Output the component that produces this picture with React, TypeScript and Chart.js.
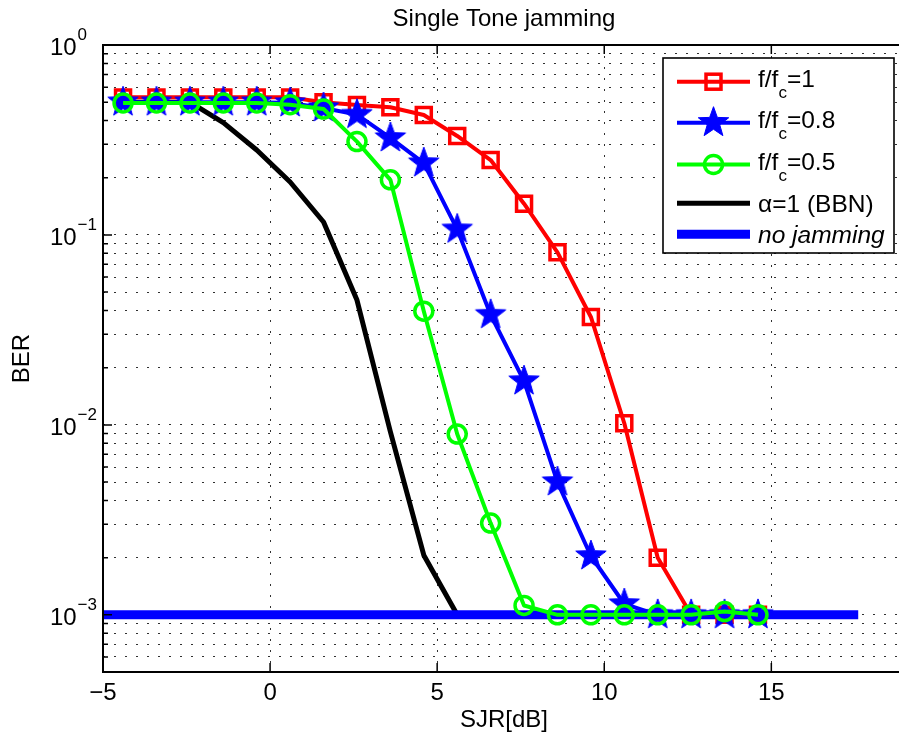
import React, { useEffect, useRef } from 'react';
import { Chart, registerables } from 'chart.js';

Chart.register(...registerables);

// ---------- data ----------
const sjr = [-4.4, -3.4, -2.4, -1.4, -0.4, 0.6, 1.6, 2.6, 3.6, 4.6, 5.6, 6.6, 7.6, 8.6, 9.6, 10.6, 11.6, 12.6, 13.6, 14.6];
const berF1 = [0.53, 0.53, 0.53, 0.53, 0.53, 0.53, 0.5, 0.483, 0.47, 0.428, 0.332, 0.248, 0.146, 0.081, 0.037, 0.0102, 0.002, 0.001, 0.001, 0.001];
const berF08 = [0.5, 0.5, 0.5, 0.5, 0.5, 0.495, 0.466, 0.43, 0.324, 0.239, 0.107, 0.038, 0.017, 0.005, 0.00204, 0.00114, 0.001, 0.001, 0.001, 0.001];
const berF05 = [0.495, 0.495, 0.495, 0.495, 0.495, 0.485, 0.46, 0.31, 0.195, 0.0397, 0.00895, 0.00304, 0.00112, 0.001, 0.001, 0.001, 0.001, 0.001, 0.00104, 0.001];
const sjrBBN = [-4.4, -3.4, -2.4, -1.4, -0.4, 0.6, 1.6, 2.6, 3.6, 4.6, 5.6];
const berBBN = [0.5, 0.5, 0.5, 0.39, 0.28, 0.19, 0.117, 0.0454, 0.0092, 0.00206, 0.001];
const sjrNoJam = [-5, 17.6];
const berNoJam = [0.001, 0.001];

const xTickValues = [-5, 0, 5, 10, 15];
const xTickLabels = ['\u22125', '0', '5', '10', '15'];
const yMajorTicks = [1e-3, 1e-2, 1e-1, 1];
const yTickExponents = ['\u22123', '\u22122', '\u22121', '0'];
const yMinorMantissas = [2, 3, 4, 5, 6, 7, 8, 9];
const yDecades = [-4, -3, -2, -1];

const titleText = 'Single Tone jamming';
const xTitle = 'SJR[dB]';
const yTitle = 'BER';

const seriesNames = [
  [['f/f', false], ['c', true], ['=1', false]],
  [['f/f', false], ['c', true], ['=0.8', false]],
  [['f/f', false], ['c', true], ['=0.5', false]],
  [['\u03b1=1 (BBN)', false]],
  [['no jamming', false]],
] as [string, boolean][][];

const RED = '#ff0000';
const BLUE = '#0000ff';
const GREEN = '#00ff00';
const BLACK = '#000000';
const FONT = "'Liberation Sans', Arial, Helvetica, sans-serif";

function pts(xs: number[], ys: number[]) {
  return xs.map((x, i) => ({ x, y: ys[i] }));
}

function drawStar(g: CanvasRenderingContext2D, cx: number, cy: number, R: number, color: string) {
  const r = R * 0.41;
  g.beginPath();
  for (let k = 0; k < 10; k++) {
    const ang = -Math.PI / 2 + (k * Math.PI) / 5;
    const rad = k % 2 === 0 ? R : r;
    const px = cx + rad * Math.cos(ang);
    const py = cy + rad * Math.sin(ang);
    if (k === 0) g.moveTo(px, py);
    else g.lineTo(px, py);
  }
  g.closePath();
  g.fillStyle = color;
  g.fill();
  g.lineWidth = 1;
  g.strokeStyle = color;
  g.stroke();
}

function makeStar(R: number, color: string) {
  const size = 36;
  const c = document.createElement('canvas');
  c.width = size;
  c.height = size;
  const g = c.getContext('2d')!;
  drawStar(g, size / 2, size / 2, R, color);
  return c;
}

const decorPlugin = {
  id: 'matlabDecor',
  afterDraw(chart: any) {
    const { ctx, chartArea } = chart;
    const xs = chart.scales.x;
    const ys = chart.scales.y;
    const L = chartArea.left, R = chartArea.right, T = chartArea.top, B = chartArea.bottom;
    ctx.save();
    // inner ticks (left axis and bottom/top axes)
    ctx.strokeStyle = '#000';
    ctx.lineWidth = 1.5;
    ctx.beginPath();
    ys.ticks.forEach((t: any) => {
      const y = ys.getPixelForValue(t.value);
      const len = yMajorTicks.includes(t.value) ? 9 : 5;
      ctx.moveTo(L, y);
      ctx.lineTo(L + len, y);
    });
    xTickValues.forEach((v) => {
      const x = xs.getPixelForValue(v);
      ctx.moveTo(x, B);
      ctx.lineTo(x, B - 9);
      ctx.moveTo(x, T);
      ctx.lineTo(x, T + 9);
    });
    ctx.stroke();
    // axes lines: left, bottom, top
    ctx.lineWidth = 2;
    ctx.beginPath();
    ctx.moveTo(L, T);
    ctx.lineTo(L, B);
    ctx.moveTo(L - 1, B);
    ctx.lineTo(R, B);
    ctx.moveTo(L - 1, T);
    ctx.lineTo(R, T);
    ctx.stroke();

    // tick labels
    ctx.fillStyle = '#000';
    ctx.font = `24px ${FONT}`;
    ctx.textBaseline = 'alphabetic';
    ctx.textAlign = 'center';
    xTickValues.forEach((v, i) => {
      ctx.fillText(xTickLabels[i], xs.getPixelForValue(v), 700);
    });
    yMajorTicks.forEach((v, i) => {
      const y = ys.getPixelForValue(v);
      ctx.font = `24px ${FONT}`;
      ctx.textAlign = 'right';
      ctx.fillText('10', 76.7, y + 10);
      ctx.font = `17px ${FONT}`;
      ctx.textAlign = 'left';
      ctx.fillText(yTickExponents[i], 77.5, y - 5);
    });

    // titles
    const cx = (L + R) / 2;
    ctx.font = `24px ${FONT}`;
    ctx.textAlign = 'center';
    ctx.fillText(titleText, cx, 25.5);
    ctx.fillText(xTitle, cx, 727);
    ctx.save();
    ctx.translate(29, (T + B) / 2);
    ctx.rotate(-Math.PI / 2);
    ctx.fillText(yTitle, 0, 0);
    ctx.restore();

    // legend
    const bx = 663, by = 58, bw = 231, bh = 195;
    ctx.fillStyle = '#fff';
    ctx.fillRect(bx, by, bw, bh);
    ctx.strokeStyle = '#000';
    ctx.lineWidth = 1.6;
    ctx.strokeRect(bx, by, bw, bh);
    const rowY = [81.7, 122.7, 164.5, 203.3, 234.3];
    const styles = [
      { color: RED, w: 4, marker: 'square' },
      { color: BLUE, w: 4, marker: 'star' },
      { color: GREEN, w: 4, marker: 'circle' },
      { color: BLACK, w: 5, marker: '' },
      { color: BLUE, w: 9, marker: '' },
    ];
    seriesNames.forEach((parts, i) => {
      const y = rowY[i];
      const st = styles[i];
      ctx.strokeStyle = st.color;
      ctx.lineWidth = st.w;
      ctx.lineCap = 'butt';
      ctx.beginPath();
      ctx.moveTo(677, y);
      ctx.lineTo(750, y);
      ctx.stroke();
      const mx = 713.5;
      if (st.marker === 'square') {
        ctx.lineWidth = 3.5;
        ctx.strokeRect(mx - 7.5, y - 7.5, 15, 15);
      } else if (st.marker === 'circle') {
        ctx.lineWidth = 3.5;
        ctx.beginPath();
        ctx.arc(mx, y, 9, 0, Math.PI * 2);
        ctx.stroke();
      } else if (st.marker === 'star') {
        drawStar(ctx, mx, y, 16, st.color);
      }
      const hasSub = parts.some((p) => p[1]);
      const base = hasSub ? y + 5 : y + 9;
      let tx = 758;
      ctx.fillStyle = '#000';
      ctx.textAlign = 'left';
      parts.forEach(([t, sub]) => {
        const italic = i === 4 ? 'italic ' : '';
        ctx.font = sub ? `17px ${FONT}` : `${italic}24.5px ${FONT}`;
        ctx.fillText(t, tx, sub ? base + 11.5 : base);
        tx += ctx.measureText(t).width;
      });
    });
    ctx.restore();
  },
};

export default function App() {
  const ref = useRef<HTMLCanvasElement | null>(null);
  useEffect(() => {
    if (!ref.current) return;
    const star = makeStar(16, BLUE);
    const common = {
      showLine: true,
      tension: 0,
      borderJoinStyle: 'round' as const,
      pointHoverRadius: 0,
    };
    const chart = new Chart(ref.current, {
      type: 'scatter',
      data: {
        datasets: [
          {
            ...common,
            label: 'f/fc=0.5',
            data: pts(sjr, berF05),
            borderColor: GREEN,
            borderWidth: 4,
            pointStyle: 'circle',
            pointRadius: 9,
            pointBorderWidth: 3.5,
            pointBorderColor: GREEN,
            pointBackgroundColor: 'rgba(0,0,0,0)',
            order: 0,
          },
          {
            ...common,
            label: 'f/fc=0.8',
            data: pts(sjr, berF08),
            borderColor: BLUE,
            borderWidth: 4,
            pointStyle: star as any,
            pointRadius: 16,
            order: 1,
          },
          {
            ...common,
            label: 'f/fc=1',
            data: pts(sjr, berF1),
            borderColor: RED,
            borderWidth: 4,
            pointStyle: 'rect',
            pointRadius: 10.6,
            pointBorderWidth: 3.5,
            pointBorderColor: RED,
            pointBackgroundColor: 'rgba(0,0,0,0)',
            order: 2,
          },
          {
            ...common,
            label: 'no jamming',
            data: pts(sjrNoJam, berNoJam),
            borderColor: BLUE,
            borderWidth: 9,
            borderCapStyle: 'butt',
            pointRadius: 0,
            order: 3,
          },
          {
            ...common,
            label: 'alpha=1 (BBN)',
            data: pts(sjrBBN, berBBN),
            borderColor: BLACK,
            borderWidth: 5,
            pointRadius: 0,
            order: 4,
          },
        ],
      },
      options: {
        animation: false,
        responsive: false,
        maintainAspectRatio: false,
        devicePixelRatio: 1,
        layout: { autoPadding: false, padding: { top: 45, left: 0, right: 15, bottom: 0 } },
        plugins: {
          legend: { display: false },
          title: { display: false },
          tooltip: { enabled: false },
        },
        events: [],
        scales: {
          x: {
            type: 'linear',
            min: -5,
            max: 19,
            afterBuildTicks: (s: any) => {
              s.ticks = xTickValues.map((v) => ({ value: v }));
            },
            afterFit: (s: any) => {
              s.height = 68;
            },
            ticks: { display: false },
            grid: { color: '#303030', lineWidth: 1, drawTicks: false },
            border: { display: false, dash: [2, 9] },
          },
          y: {
            type: 'logarithmic',
            min: 5e-4,
            max: 1,
            afterBuildTicks: (s: any) => {
              const vals: number[] = [];
              yDecades.forEach((d) => {
                vals.push(Math.pow(10, d));
                yMinorMantissas.forEach((m) => vals.push(m * Math.pow(10, d)));
              });
              vals.push(1);
              s.ticks = vals
                .filter((v) => v >= 5e-4 * 0.999 && v <= 1.0001)
                .map((v) => ({ value: v }));
            },
            afterFit: (s: any) => {
              s.width = 103;
            },
            ticks: { display: false },
            grid: { color: '#303030', lineWidth: 1, drawTicks: false },
            border: { display: false, dash: [2, 9] },
          },
        },
      } as any,
      plugins: [decorPlugin],
    });
    return () => chart.destroy();
  }, []);

  return (
    <div
      style={{
        position: 'fixed',
        left: 0,
        top: 0,
        width: 899,
        height: 740,
        overflow: 'hidden',
        background: '#fff',
      }}
    >
      <canvas ref={ref} width={920} height={740} style={{ display: 'block' }} />
    </div>
  );
}
